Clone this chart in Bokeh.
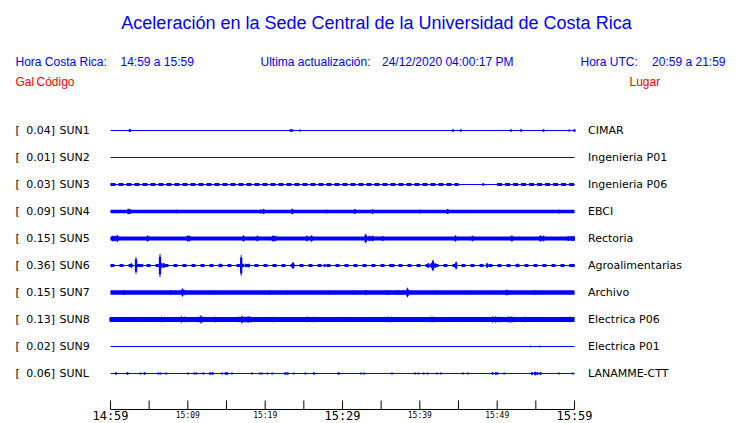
from bokeh.plotting import figure
from bokeh.models import Range1d, Label, ColumnDataSource
from bokeh.core.properties import value
from bokeh.embed import file_html
from bokeh.resources import INLINE

# ---------------- data ----------------
STATIONS = ["SUN1", "SUN2", "SUN3", "SUN4", "SUN5", "SUN6", "SUN7", "SUN8", "SUN9", "SUNL"]
PEAKS = [0.04, 0.01, 0.03, 0.09, 0.15, 0.36, 0.15, 0.13, 0.02, 0.06]
PLACES = ["CIMAR", "Ingenieria P01", "Ingenieria P06", "EBCI", "Rectoria",
          "Agroalimentarias", "Archivo", "Electrica P06", "Electrica P01", "LANAMME-CTT"]
# continuous noise band amplitude (Gal) and the minutes where it is present
NOISE = [0.0, 0.0, 0.05, 0.058, 0.066, 0.05, 0.068, 0.076, 0.0, 0.0]
NOISE_SPANS = [[], [], [(0, 45.0), (50.0, 60)], [(0, 60)], [(0, 60)], [(0, 60)],
               [(0, 60)], [(0, 60)], [], []]
INTERMITTENT = ["SUN3", "SUN6"]

# bursts: (minute after 14:59, amplitude in Gal)
EV_SUN1 = [(2.5, 0.05), (5.6, 0.02), (23.3, 0.04), (23.5, 0.04), (24.5, 0.03), (44.3, 0.04),
           (45.3, 0.04), (48.3, 0.02), (51.8, 0.04), (53.1, 0.04), (56.0, 0.04), (59.3, 0.03), (60.0, 0.04)]
EV_SUN2 = []
EV_SUN3 = [(48.2, 0.04)]
EV_SUN4 = [(2.3, 0.09), (2.5, 0.08), (8.5, 0.06), (19.4, 0.06), (19.8, 0.08), (20.8, 0.05), (23.5, 0.09),
           (28.0, 0.06), (31.6, 0.08), (33.9, 0.07), (40.0, 0.06), (43.6, 0.08), (46.3, 0.05), (57.1, 0.05),
           (58.0, 0.06)]
EV_SUN5 = [(0.3, 0.09), (0.6, 0.09), (0.9, 0.11), (4.8, 0.1), (10.0, 0.1), (10.2, 0.09), (17.2, 0.1),
           (19.0, 0.09), (21.0, 0.1), (21.3, 0.09), (25.4, 0.09), (26.0, 0.1), (33.0, 0.15), (33.5, 0.09),
           (33.9, 0.09), (35.2, 0.08), (44.6, 0.1), (46.8, 0.09), (51.9, 0.1), (55.6, 0.1), (56.0, 0.09),
           (59.2, 0.08), (59.6, 0.08), (59.9, 0.08)]
EV_SUN6 = [(2.7, 0.07), (3.3, 0.26), (3.5, 0.05), (3.8, 0.05), (4.1, 0.05), (6.4, 0.36), (6.6, 0.08),
           (6.9, 0.08), (14.2, 0.06), (16.9, 0.32), (17.1, 0.06), (17.5, 0.06), (17.9, 0.06), (23.6, 0.11),
           (27.7, 0.05), (36.2, 0.05), (36.6, 0.05), (41.1, 0.08), (41.5, 0.08), (41.7, 0.18), (42.0, 0.08),
           (44.7, 0.12), (48.7, 0.08), (52.6, 0.06), (59.5, 0.05), (59.9, 0.05)]
EV_SUN7 = [(1.7, 0.07), (7.8, 0.07), (9.3, 0.13), (9.5, 0.09), (12.8, 0.06), (20.6, 0.07), (22.9, 0.06),
           (28.2, 0.06), (29.4, 0.05), (31.5, 0.07), (33.0, 0.08), (35.6, 0.07), (35.9, 0.07), (36.9, 0.07),
           (37.3, 0.07), (37.8, 0.07), (38.4, 0.15), (39.9, 0.05), (42.0, 0.06), (43.4, 0.05), (46.1, 0.06),
           (47.4, 0.05), (49.1, 0.05), (51.2, 0.09), (51.4, 0.08), (54.9, 0.07), (55.7, 0.06)]
EV_SUN8 = [(0.0, 0.08), (0.4, 0.08), (0.9, 0.08), (2.4, 0.06), (3.4, 0.08), (3.7, 0.07), (4.0, 0.08),
           (5.4, 0.07), (6.2, 0.08), (6.6, 0.09), (7.0, 0.08), (7.5, 0.08), (8.8, 0.08), (9.2, 0.1),
           (9.6, 0.09), (10.1, 0.08), (10.6, 0.07), (11.4, 0.09), (11.7, 0.13), (12.0, 0.09), (12.8, 0.08),
           (13.6, 0.09), (14.0, 0.08), (14.9, 0.07), (16.6, 0.09), (17.0, 0.12), (17.4, 0.1), (17.8, 0.11),
           (18.1, 0.09), (18.4, 0.08), (19.1, 0.08), (19.5, 0.08), (19.8, 0.07), (20.9, 0.09), (21.3, 0.08),
           (21.6, 0.08), (22.2, 0.07), (22.6, 0.07), (22.9, 0.07), (24.0, 0.07), (25.4, 0.09), (25.8, 0.08),
           (26.3, 0.09), (26.7, 0.08), (27.8, 0.06), (29.5, 0.08), (29.8, 0.07), (30.1, 0.08), (31.0, 0.07),
           (32.5, 0.07), (34.0, 0.08), (34.4, 0.08), (34.7, 0.07), (35.9, 0.09), (36.3, 0.09), (36.6, 0.08),
           (40.3, 0.08), (41.4, 0.09), (41.7, 0.09), (42.0, 0.08), (44.9, 0.08), (46.8, 0.08), (49.4, 0.1),
           (49.8, 0.1), (50.1, 0.09), (50.4, 0.09), (51.5, 0.1), (51.8, 0.1), (52.1, 0.09), (53.6, 0.09),
           (55.4, 0.08), (57.3, 0.06), (59.4, 0.09), (59.8, 0.08)]
EV_SUN9 = [(50.2, 0.015), (54.3, 0.025), (55.5, 0.025)]
EV_SUNL = [(0.7, 0.04), (2.2, 0.04), (3.9, 0.03), (4.4, 0.04), (6.2, 0.03), (6.5, 0.03), (7.2, 0.03),
           (9.2, 0.02), (10.0, 0.03), (10.8, 0.03), (11.1, 0.03), (12.0, 0.03), (12.9, 0.04), (13.2, 0.04),
           (14.4, 0.03), (14.9, 0.04), (15.1, 0.04), (15.7, 0.03), (18.3, 0.03), (19.3, 0.03), (19.6, 0.03),
           (20.3, 0.03), (20.9, 0.03), (22.6, 0.04), (22.9, 0.04), (23.7, 0.03), (25.2, 0.03), (26.3, 0.04),
           (29.5, 0.04), (31.3, 0.02), (32.4, 0.03), (32.8, 0.03), (35.1, 0.02), (36.4, 0.03), (37.5, 0.02),
           (39.4, 0.03), (39.8, 0.03), (40.5, 0.03), (41.0, 0.03), (42.2, 0.03), (42.7, 0.03), (44.6, 0.02),
           (45.6, 0.03), (46.2, 0.03), (47.6, 0.02), (49.4, 0.04), (49.8, 0.04), (50.0, 0.04), (50.9, 0.03),
           (53.0, 0.02), (54.5, 0.05), (54.9, 0.06), (55.2, 0.05), (55.6, 0.05), (56.9, 0.02), (58.0, 0.03),
           (59.8, 0.03)]
EVENTS = [EV_SUN1, EV_SUN2, EV_SUN3, EV_SUN4, EV_SUN5, EV_SUN6, EV_SUN7, EV_SUN8, EV_SUN9, EV_SUNL]

TIME_START, TIME_END = 0, 60
TICK_MINUTES = list(range(0, 61, 5))
MAJOR_TICKS = [0, 30, 60]
MAJOR_LABELS = ["14:59", "15:29", "15:59"]
MINOR_TICKS = [10, 20, 40, 50]
MINOR_LABELS = ["15:09", "15:19", "15:39", "15:49"]

TITLE = "Aceleración en la Sede Central de la Universidad de Costa Rica"

# ---------------- layout ----------------
BLUE = "#0000ff"
RED = "#ff0000"
W, H = 740, 423
PX_PER_MIN = 464 / 60.0
ROW_PX = 27.0
GAL_PX = 32.0
X0_PAGE, Y0_PAGE = 110.0, 130.0


def X(px):
    return (px - X0_PAGE) / PX_PER_MIN


def Y(py):
    return (py - Y0_PAGE) / ROW_PX


K = GAL_PX / ROW_PX

p = figure(width=W, height=H, x_range=Range1d(X(0), X(W)), y_range=Range1d(Y(H), Y(0)),
           x_axis_type=None, y_axis_type=None, toolbar_location=None, output_backend="svg",
           min_border=0, outline_line_color=None, background_fill_color="white")

rows = list(range(len(STATIONS)))

# thin trace lines
p.segment(x0=[TIME_START] * len(rows), y0=rows, x1=[TIME_END] * len(rows), y1=rows,
          line_color=BLUE, line_width=1)

# noise bands
for i, st in enumerate(STATIONS):
    for (s, e) in NOISE_SPANS[i]:
        kw = {}
        if st in INTERMITTENT:
            kw["line_dash"] = "5 3" if st == "SUN3" else "4 5"
        p.line([s, e], [i, i], line_color=BLUE, line_width=2 * NOISE[i] * GAL_PX, line_cap="butt", **kw)

# bursts
ex, ey, ey0, ey1, eh = [], [], [], [], []
for i, evs in enumerate(EVENTS):
    for (t, a) in evs:
        ex.append(t)
        ey.append(i)
        ey0.append(i - a * K)
        ey1.append(i + a * K)
        eh.append(2 * a * K * 0.75)
src = ColumnDataSource(dict(x=ex, y=ey, y0=ey0, y1=ey1, h=eh))
p.segment(x0="x", y0="y0", x1="x", y1="y1", source=src, line_color=BLUE, line_width=1)
p.rect(x="x", y="y", width=0.3, height="h", source=src, fill_color=BLUE, line_color=None)

# time axis
p.segment(x0=[TIME_START], y0=[Y(409)], x1=[TIME_END], y1=[Y(409)], line_color="black", line_width=1)
p.segment(x0=TICK_MINUTES, y0=[Y(400)] * len(TICK_MINUTES), x1=TICK_MINUTES,
          y1=[Y(409)] * len(TICK_MINUTES), line_color="black", line_width=1)
p.text(x=MAJOR_TICKS, y=[Y(415.5)] * 3, text=MAJOR_LABELS, text_font=value("DejaVu Sans Mono"),
       text_font_size="12px", text_align="center", text_baseline="middle", text_color="black")
p.text(x=MINOR_TICKS, y=[Y(414.5)] * 4, text=MINOR_LABELS, text_font=value("DejaVu Sans Mono"),
       text_font_size="8px", text_align="center", text_baseline="middle", text_color="black")

# station labels
lab_font = value("DejaVu Sans")
n = len(rows)
p.text(x=[X(15)] * n, y=rows, text=["["] * n, text_font=lab_font, text_font_size="11px",
       text_baseline="middle", text_color="black")
p.text(x=[X(54.5)] * n, y=rows, text=["%.2f]" % v for v in PEAKS], text_font=lab_font,
       text_font_size="11px", text_align="right", text_baseline="middle", text_color="black")
p.text(x=[X(59)] * n, y=rows, text=STATIONS, text_font=lab_font, text_font_size="11px",
       text_baseline="middle", text_color="black")
p.text(x=[X(587.5)] * n, y=rows, text=PLACES, text_font=lab_font, text_font_size="11px",
       text_baseline="middle", text_color="black")


def lab(px, py, txt, color, size="12px", align="left"):
    p.add_layout(Label(x=X(px), y=Y(py), text=txt, text_color=color, text_font="Liberation Sans",
                       text_font_size=size, text_align=align, text_baseline="middle"))


lab(376, 22, TITLE, BLUE, size="18px", align="center")
lab(15, 61, "Hora Costa Rica:", BLUE)
lab(120, 61, "14:59 a 15:59", BLUE)
lab(260, 61, "Ultima actualización:", BLUE)
lab(381.5, 61, "24/12/2020 04:00:17 PM", BLUE)
lab(580, 61, "Hora UTC:", BLUE)
lab(725, 61, "20:59 a 21:59", BLUE, align="right")
lab(15, 81, "Gal", RED)
lab(36, 81, "Código", RED)
lab(629, 81, "Lugar", RED)

open("out.html", "w").write(file_html(p, INLINE))
